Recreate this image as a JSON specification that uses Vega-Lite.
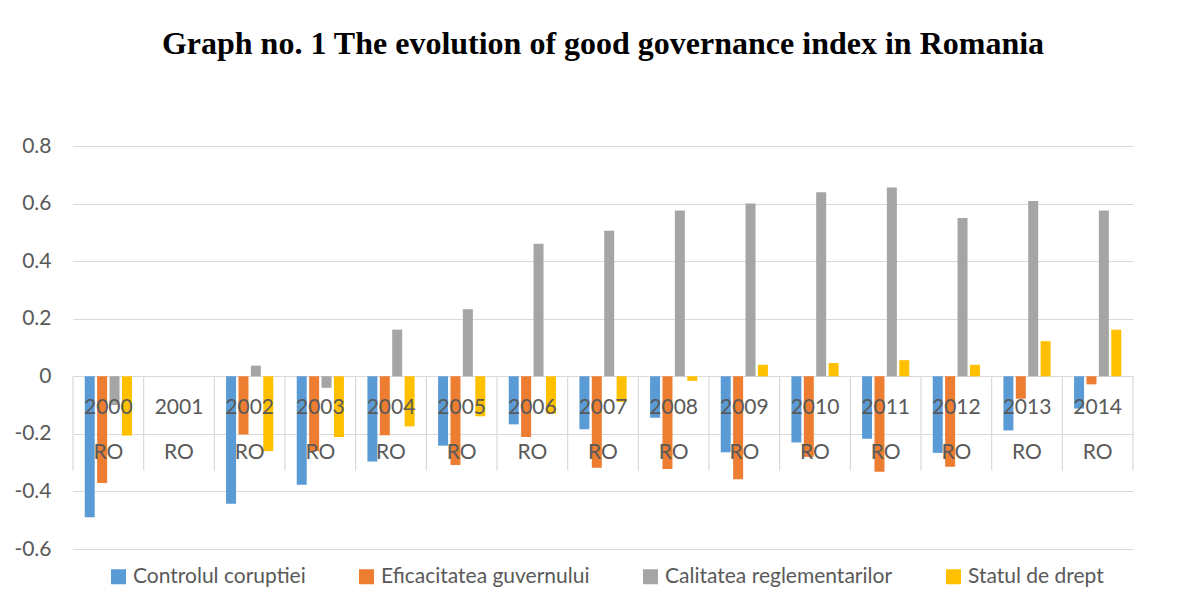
{
  "$schema": "https://vega.github.io/schema/vega-lite/v6.json",
  "width": 1060,
  "height": 403,
  "autosize": {"type": "none"},
  "padding": {"left": 73, "top": 146, "right": 62, "bottom": 63},
  "background": "white",
  "config": {"view": {"stroke": null}, "font": "Lato"},
  "title": {
    "text": "Graph no. 1 The evolution of good governance index in Romania",
    "font": "Liberation Serif",
    "fontSize": 32,
    "fontWeight": "bold",
    "color": "#000000",
    "anchor": "middle",
    "offset": 74
  },
  "datasets": {
    "vals": [
      {"year": "2000", "series": "Controlul coruptiei", "value": -0.49},
      {"year": "2000", "series": "Eficacitatea guvernului", "value": -0.371},
      {"year": "2000", "series": "Calitatea reglementarilor", "value": -0.1},
      {"year": "2000", "series": "Statul de drept", "value": -0.206},
      {"year": "2002", "series": "Controlul coruptiei", "value": -0.443},
      {"year": "2002", "series": "Eficacitatea guvernului", "value": -0.202},
      {"year": "2002", "series": "Calitatea reglementarilor", "value": 0.037},
      {"year": "2002", "series": "Statul de drept", "value": -0.26},
      {"year": "2003", "series": "Controlul coruptiei", "value": -0.377},
      {"year": "2003", "series": "Eficacitatea guvernului", "value": -0.26},
      {"year": "2003", "series": "Calitatea reglementarilor", "value": -0.04},
      {"year": "2003", "series": "Statul de drept", "value": -0.211},
      {"year": "2004", "series": "Controlul coruptiei", "value": -0.296},
      {"year": "2004", "series": "Eficacitatea guvernului", "value": -0.205},
      {"year": "2004", "series": "Calitatea reglementarilor", "value": 0.162},
      {"year": "2004", "series": "Statul de drept", "value": -0.174},
      {"year": "2005", "series": "Controlul coruptiei", "value": -0.241},
      {"year": "2005", "series": "Eficacitatea guvernului", "value": -0.308},
      {"year": "2005", "series": "Calitatea reglementarilor", "value": 0.233},
      {"year": "2005", "series": "Statul de drept", "value": -0.139},
      {"year": "2006", "series": "Controlul coruptiei", "value": -0.167},
      {"year": "2006", "series": "Eficacitatea guvernului", "value": -0.211},
      {"year": "2006", "series": "Calitatea reglementarilor", "value": 0.46},
      {"year": "2006", "series": "Statul de drept", "value": -0.13},
      {"year": "2007", "series": "Controlul coruptiei", "value": -0.184},
      {"year": "2007", "series": "Eficacitatea guvernului", "value": -0.318},
      {"year": "2007", "series": "Calitatea reglementarilor", "value": 0.506},
      {"year": "2007", "series": "Statul de drept", "value": -0.089},
      {"year": "2008", "series": "Controlul coruptiei", "value": -0.144},
      {"year": "2008", "series": "Eficacitatea guvernului", "value": -0.322},
      {"year": "2008", "series": "Calitatea reglementarilor", "value": 0.576},
      {"year": "2008", "series": "Statul de drept", "value": -0.016},
      {"year": "2009", "series": "Controlul coruptiei", "value": -0.264},
      {"year": "2009", "series": "Eficacitatea guvernului", "value": -0.358},
      {"year": "2009", "series": "Calitatea reglementarilor", "value": 0.6},
      {"year": "2009", "series": "Statul de drept", "value": 0.04},
      {"year": "2010", "series": "Controlul coruptiei", "value": -0.23},
      {"year": "2010", "series": "Eficacitatea guvernului", "value": -0.28},
      {"year": "2010", "series": "Calitatea reglementarilor", "value": 0.639},
      {"year": "2010", "series": "Statul de drept", "value": 0.046},
      {"year": "2011", "series": "Controlul coruptiei", "value": -0.217},
      {"year": "2011", "series": "Eficacitatea guvernului", "value": -0.332},
      {"year": "2011", "series": "Calitatea reglementarilor", "value": 0.656},
      {"year": "2011", "series": "Statul de drept", "value": 0.056},
      {"year": "2012", "series": "Controlul coruptiei", "value": -0.266},
      {"year": "2012", "series": "Eficacitatea guvernului", "value": -0.314},
      {"year": "2012", "series": "Calitatea reglementarilor", "value": 0.55},
      {"year": "2012", "series": "Statul de drept", "value": 0.04},
      {"year": "2013", "series": "Controlul coruptiei", "value": -0.188},
      {"year": "2013", "series": "Eficacitatea guvernului", "value": -0.078},
      {"year": "2013", "series": "Calitatea reglementarilor", "value": 0.609},
      {"year": "2013", "series": "Statul de drept", "value": 0.122},
      {"year": "2014", "series": "Controlul coruptiei", "value": -0.112},
      {"year": "2014", "series": "Eficacitatea guvernului", "value": -0.028},
      {"year": "2014", "series": "Calitatea reglementarilor", "value": 0.576},
      {"year": "2014", "series": "Statul de drept", "value": 0.162}
    ],
    "years": [
      {"year": "2000", "country": "RO"}, {"year": "2001", "country": "RO"},
      {"year": "2002", "country": "RO"}, {"year": "2003", "country": "RO"},
      {"year": "2004", "country": "RO"}, {"year": "2005", "country": "RO"},
      {"year": "2006", "country": "RO"}, {"year": "2007", "country": "RO"},
      {"year": "2008", "country": "RO"}, {"year": "2009", "country": "RO"},
      {"year": "2010", "country": "RO"}, {"year": "2011", "country": "RO"},
      {"year": "2012", "country": "RO"}, {"year": "2013", "country": "RO"},
      {"year": "2014", "country": "RO"}
    ]
  },
  "layer": [
    {
      "data": {"name": "vals"},
      "mark": {"type": "bar"},
      "encoding": {
        "x": {
          "field": "year", "type": "nominal",
          "scale": {"domain": ["2000","2001","2002","2003","2004","2005","2006","2007","2008","2009","2010","2011","2012","2013","2014"], "paddingInner": 0, "paddingOuter": 0},
          "axis": null
        },
        "xOffset": {
          "field": "series", "type": "nominal",
          "sort": ["Controlul coruptiei", "Eficacitatea guvernului", "Calitatea reglementarilor", "Statul de drept"],
          "scale": {"paddingInner": 0.194, "paddingOuter": 0.947}
        },
        "y": {
          "field": "value", "type": "quantitative",
          "scale": {"domain": [-0.6, 0.8], "nice": false, "zero": false},
          "axis": {
            "values": [-0.6, -0.4, -0.2, 0, 0.2, 0.4, 0.6, 0.8],
            "grid": true, "gridColor": "#d9d9d9", "gridWidth": 1.2,
            "domain": false, "ticks": false,
            "labelFont": "Lato", "labelFontSize": 21, "labelColor": "#595959",
            "labelPadding": 22, "title": null,
            "labelExpr": "datum.value == 0 ? '0' : (datum.value < 0 ? '-' + format(-datum.value, '.1f') : format(datum.value, '.1f'))"
          }
        },
        "color": {
          "field": "series", "type": "nominal",
          "scale": {
            "domain": ["Controlul coruptiei", "Eficacitatea guvernului", "Calitatea reglementarilor", "Statul de drept"],
            "range": ["#5B9BD5", "#ED7D31", "#A5A5A5", "#FFC000"]
          },
          "legend": {
            "orient": "none", "legendX": 35, "legendY": 420,
            "direction": "horizontal", "title": null,
            "symbolType": "square", "symbolSize": 225, "symbolStrokeWidth": 0,
            "labelFont": "Lato", "labelFontSize": 21, "labelColor": "#595959",
            "labelLimit": 0,
            "columnPadding": 50, "labelOffset": 4
          }
        }
      }
    },
    {
      "data": {"name": "years"},
      "mark": {"type": "rule", "color": "#d9d9d9", "strokeWidth": 1.2},
      "encoding": {
        "x": {"field": "year", "type": "nominal", "bandPosition": 0},
        "y": {"datum": 0},
        "y2": {"datum": -0.327}
      }
    },
    {
      "data": {"values": [{"year": "2014"}]},
      "mark": {"type": "rule", "color": "#d9d9d9", "strokeWidth": 1.2},
      "encoding": {
        "x": {"field": "year", "type": "nominal", "bandPosition": 1},
        "y": {"datum": 0},
        "y2": {"datum": -0.327}
      }
    },
    {
      "data": {"name": "years"},
      "mark": {"type": "text", "font": "Lato", "fontSize": 21, "color": "#595959", "baseline": "middle", "align": "center"},
      "encoding": {
        "x": {"field": "year", "type": "nominal"},
        "y": {"datum": -0.11},
        "text": {"field": "year"}
      }
    },
    {
      "data": {"name": "years"},
      "mark": {"type": "text", "font": "Lato", "fontSize": 21, "color": "#595959", "baseline": "middle", "align": "center"},
      "encoding": {
        "x": {"field": "year", "type": "nominal"},
        "y": {"datum": -0.268},
        "text": {"field": "country"}
      }
    }
  ]
}
